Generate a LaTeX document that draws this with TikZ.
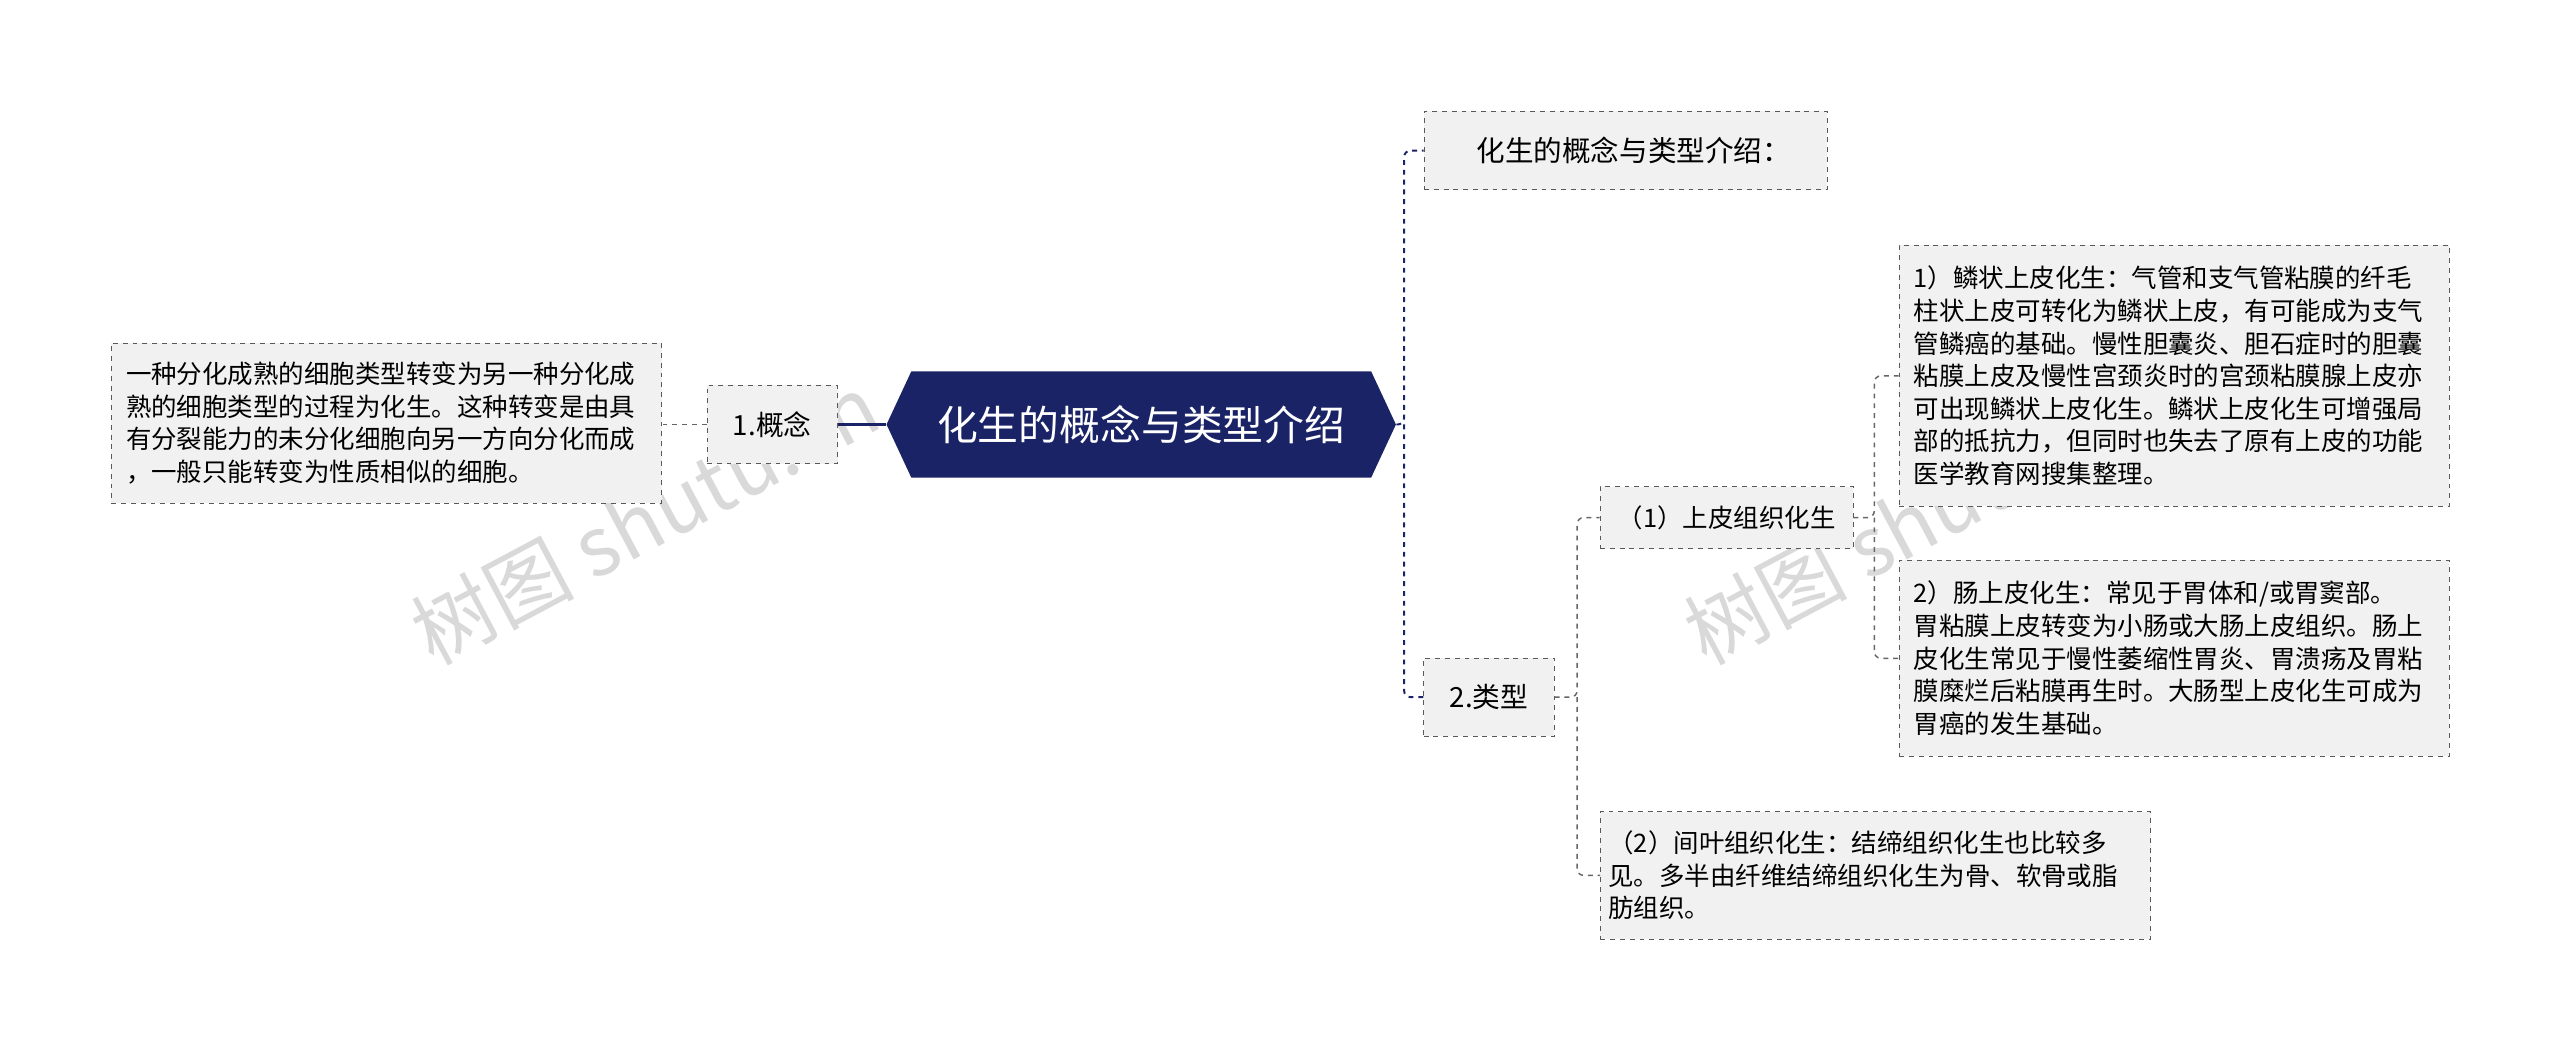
\documentclass[tikz,border=0pt]{standalone}
\usepackage{fontspec}
\setmainfont{Noto Sans CJK SC}
\usetikzlibrary{shapes.geometric,shapes.symbols}
\definecolor{navy}{HTML}{1A2366}
\definecolor{boxfill}{HTML}{F1F1F1}
\begin{document}
\begin{tikzpicture}[x=1pt,y=-1pt,
  box/.style={draw=black!65,dashed,fill=boxfill,inner sep=0pt,font=\fontsize{15.6}{20}\selectfont,align=left,anchor=north west},
  nav/.style={draw=navy,dashed,line width=1.2pt,rounded corners=4pt},
  gry/.style={draw=black!60,dashed,line width=0.9pt,rounded corners=4pt}]
\useasboundingbox (0,0) rectangle (1568,644);
\node[font=\fontsize{50}{50}\selectfont,text=black!15,rotate=28] (w1) at (395,318) {树图 shutu.cn};
\node[font=\fontsize{50}{50}\selectfont,text=black!15,rotate=28] (w2) at (1175,318) {树图 shutu.cn};
% root
\node[fill=navy,text=white,signal,signal to=east and west,signal pointer angle=130,minimum width=312,minimum height=65,inner sep=0pt,font=\fontsize{25}{25}\selectfont] (root) at (699,260) {化生的概念与类型介绍};
\node[box,anchor=center,minimum width=80,minimum height=48,font=\fontsize{17}{17}\selectfont] (c1) at (473,260) {1.概念};
\node[box,minimum width=337,minimum height=98] (t1) at (68,210) {\hspace{8pt}\parbox{327pt}{一种分化成熟的细胞类型转变为另一种分化成\\熟的细胞类型的过程为化生。这种转变是由具\\有分裂能力的未分化细胞向另一方向分化而成\\，一般只能转变为性质相似的细胞。}};
\node[box,minimum width=247,minimum height=48,font=\fontsize{17.5}{17.5}\selectfont] (h) at (872,68) {\hspace{10pt}化生的概念与类型介绍：};
\node[box,anchor=center,minimum width=80,minimum height=48,font=\fontsize{17}{17}\selectfont] (c2) at (912,427) {2.类型};
\node[box,anchor=center,minimum width=155,minimum height=38] (s1) at (1057.5,317) {（1）上皮组织化生};
\node[box,minimum width=337,minimum height=160] (b1) at (1163,150) {\hspace{8pt}\parbox{327pt}{1）鳞状上皮化生：气管和支气管粘膜的纤毛\\柱状上皮可转化为鳞状上皮，有可能成为支气\\管鳞癌的基础。慢性胆囊炎、胆石症时的胆囊\\粘膜上皮及慢性宫颈炎时的宫颈粘膜腺上皮亦\\可出现鳞状上皮化生。鳞状上皮化生可增强局\\部的抵抗力，但同时也失去了原有上皮的功能\\医学教育网搜集整理。}};
\node[box,minimum width=337,minimum height=120] (b2) at (1163,343) {\hspace{8pt}\parbox{327pt}{2）肠上皮化生：常见于胃体和/或胃窦部。\\胃粘膜上皮转变为小肠或大肠上皮组织。肠上\\皮化生常见于慢性萎缩性胃炎、胃溃疡及胃粘\\膜糜烂后粘膜再生时。大肠型上皮化生可成为\\胃癌的发生基础。}};
\node[box,minimum width=337,minimum height=78] (s2) at (980,497) {\hspace{4pt}\parbox{331pt}{（2）间叶组织化生：结缔组织化生也比较多\\见。多半由纤维结缔组织化生为骨、软骨或脂\\肪组织。}};
% connectors
\draw[navy,line width=1.5pt] (root.west) -- (c1.east);
\draw[gry] (c1.west) -- (t1.east |- c1.west);
\draw[nav] (root.east) -- (860,260) |- (h.west);
\draw[nav] (860,260) |- (c2.west);
\draw[gry] (c2.east) -- (966,427) |- (s1.west);
\draw[gry] (966,427) |- (s2.west);
\draw[gry] (s1.east) -- (1148,317) |- (b1.west);
\draw[gry] (1148,317) |- (b2.west);
\end{tikzpicture}
\end{document}
